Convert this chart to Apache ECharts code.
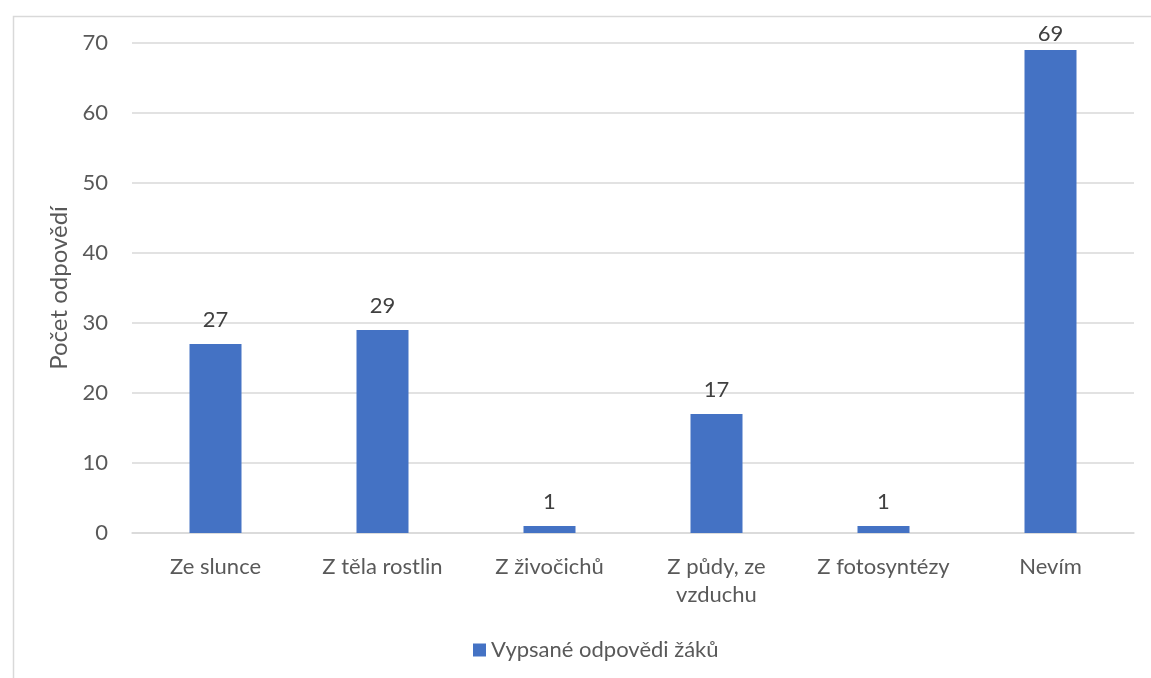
<!DOCTYPE html>
<html><head><meta charset="utf-8">
<script src="https://cdn.jsdelivr.net/npm/echarts@6/dist/echarts.min.js"></script>
<style>html,body{margin:0;padding:0;background:#fff}#c{width:1151px;height:678px}</style>
</head><body><div id="c"></div>
<script>
const categories = ['Ze slunce', 'Z těla rostlin', 'Z živočichů', 'Z půdy, ze\nvzduchu', 'Z fotosyntézy', 'Nevím'];
const values = [27, 29, 1, 17, 1, 69];
const seriesName = 'Vypsané odpovědi žáků';
const yAxisName = 'Počet odpovědí';
const FONT = 'Lato, "Open Sans", sans-serif';
const chart = echarts.init(document.getElementById('c'));
chart.setOption({
  animation: false,
  textStyle: { fontFamily: FONT },
  graphic: [{ type: 'rect', left: 11, top: 14, shape: { width: 1300, height: 800 }, style: { fill: 'none', stroke: '#d9d9d9', lineWidth: 1.5 }, silent: true }],
  grid: { left: 132, right: 17, top: 43, bottom: 145 },
  legend: { top: 634, left: 468, itemWidth: 13, itemHeight: 13, itemGap: 6, icon: 'rect',
    textStyle: { color: '#595959', fontSize: 22, fontFamily: FONT } },
  xAxis: { type: 'category', data: categories,
    axisLine: { lineStyle: { color: '#d9d9d9', width: 1.5 } }, axisTick: { show: false },
    axisLabel: { color: '#595959', fontSize: 22, margin: 20, lineHeight: 28, fontFamily: FONT, interval: 0 } },
  yAxis: { type: 'value', min: 0, max: 70, interval: 10, name: yAxisName, nameLocation: 'middle', nameGap: 56,
    nameTextStyle: { color: '#595959', fontSize: 24, fontFamily: FONT },
    axisLine: { show: false }, axisTick: { show: false },
    axisLabel: { color: '#595959', fontSize: 22, margin: 24, fontFamily: FONT },
    splitLine: { lineStyle: { color: '#d9d9d9', width: 1.5 } } },
  series: [{ name: seriesName, type: 'bar', barWidth: 52,
    data: values.map(v => ({ value: v, label: { distance: v > 65 ? 5 : 13 } })),
    itemStyle: { color: '#4472C4' },
    label: { show: true, position: 'top', color: '#404040', fontSize: 22, fontFamily: FONT } }]
});
</script></body></html>
